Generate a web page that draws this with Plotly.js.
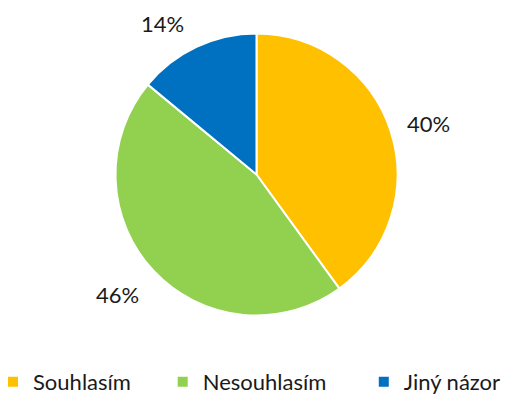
<!DOCTYPE html>
<html><head><meta charset="utf-8">
<script src="https://cdn.plot.ly/plotly-3.0.1.min.js"></script>
<style>html,body{margin:0;padding:0;background:#fff}</style>
</head><body><div id="chart" style="width:509px;height:403px"></div>
<script>
const categories = ["Souhlasím", "Nesouhlasím", "Jiný názor"];
const values = [40, 46, 14];
const pctLabels = ["40%", "46%", "14%"];
const colors = ["#FFC000", "#92D050", "#0070C0"];
const labelPos = [[428.5, 123], [117.5, 294.5], [162, 23.5]];
const W = 509, H = 403;
const FONT = "Lato, 'Open Sans', sans-serif";
const NB = "\u00a0";
const legendPad = [NB.repeat(6), NB.repeat(7), ""];
const annotations = pctLabels.map((t, i) => ({
  text: t, xref: "paper", yref: "paper",
  x: labelPos[i][0] / W, y: 1 - labelPos[i][1] / H,
  xanchor: "center", yanchor: "middle", showarrow: false,
  font: {family: FONT, size: 22, color: "#1a1a1a"}
}));
Plotly.newPlot("chart", [{
  type: "pie", labels: categories.map((c, i) => c + legendPad[i]), values: values, sort: false,
  direction: "clockwise", rotation: 0, textinfo: "none", hoverinfo: "none",
  marker: {colors: colors, line: {color: "#ffffff", width: 2}},
  domain: {x: [115.5 / W, 397.5 / W], y: [1 - 315.5 / H, 1 - 33.5 / H]}
}], {
  width: W, height: H, margin: {l: 0, r: 0, t: 0, b: 0},
  paper_bgcolor: "#ffffff", plot_bgcolor: "#ffffff",
  showlegend: true,
  legend: {orientation: "h", x: 0, xanchor: "left", y: 0, yanchor: "bottom",
    indentation: -7,
    font: {family: FONT, size: 22, color: "#1a1a1a"}},
  annotations: annotations
}, {displayModeBar: false, staticPlot: true});
</script></body></html>
